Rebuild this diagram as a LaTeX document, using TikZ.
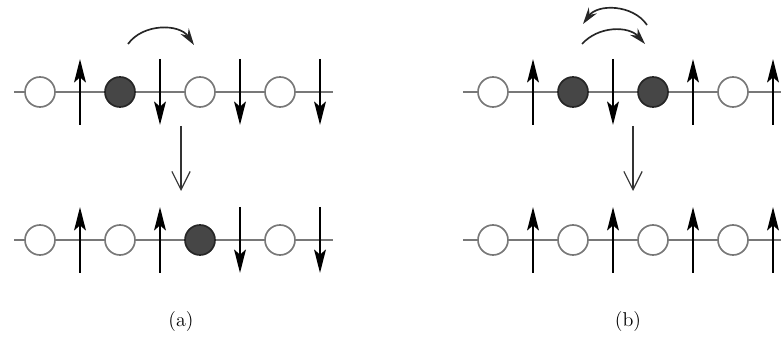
\documentclass[tikz,border=0pt]{standalone}
\usepackage{tikz}
\usetikzlibrary{arrows.meta}
\definecolor{cadena}{RGB}{120,120,120}
\definecolor{hueco}{RGB}{70,70,70}
\tikzset{
  sitio/.style={circle, draw=cadena, line width=1pt, fill=white,
    minimum size=18pt, inner sep=0pt},
  sitioh/.style={sitio, draw=black!85, fill=hueco},
  linea/.style={draw=cadena, line width=0.7pt},
  espin/.style={line width=1.7pt, -{Stealth[length=14pt,width=7pt,inset=3pt]}},
  salto/.style={line width=1pt, black!85, -{Stealth[length=10pt,width=6pt]}},
  paso/.style={line width=0.7pt, black!80, -{Straight Barb[length=11pt,width=11pt]}},
  etiq/.style={font=\large}
}
\begin{document}
\begin{tikzpicture}[x=0.6pt, y=0.6pt]
  \useasboundingbox (0,0) rectangle (781,-338);

  % cadenas
  \coordinate (a1i) at (14,-92);  \coordinate (a1d) at (333,-92);
  \coordinate (a2i) at (14,-240); \coordinate (a2d) at (333,-240);
  \coordinate (b1i) at (463,-92);  \coordinate (b1d) at (781,-92);
  \coordinate (b2i) at (463,-240); \coordinate (b2d) at (781,-240);
  \foreach \c in {a1,a2,b1,b2}
    \draw[linea] (\c i) -- (\c d);

  % sitios (a)
  \foreach \x/\t [count=\i] in {40/sitio,120/sitioh,200/sitio,280/sitio}
    \node[\t] (sa1-\i) at (\x,-92) {};
  \foreach \x/\t [count=\i] in {40/sitio,120/sitio,200/sitioh,280/sitio}
    \node[\t] (sa2-\i) at (\x,-240) {};
  % sitios (b)
  \foreach \x/\t [count=\i] in {493/sitio,573/sitioh,653/sitioh,733/sitio}
    \node[\t] (sb1-\i) at (\x,-92) {};
  \foreach \x [count=\i] in {493,573,653,733}
    \node[sitio] (sb2-\i) at (\x,-240) {};

  % espines: 1 = arriba, -1 = abajo
  \foreach \x/\s in {80/1,160/-1,240/-1,320/-1}
    \draw[espin] (\x,-92-33*\s) -- (\x,-92+33*\s);
  \foreach \x/\s in {80/1,160/1,240/-1,320/-1}
    \draw[espin] (\x,-240-33*\s) -- (\x,-240+33*\s);
  \foreach \x/\s in {533/1,613/-1,693/1,773/1}
    \draw[espin] (\x,-92-33*\s) -- (\x,-92+33*\s);
  \foreach \x in {533,613,693,773}
    \draw[espin] (\x,-240-33) -- (\x,-240+33);

  % saltos
  \coordinate (ha0) at (128,-44); \coordinate (ha1) at (194,-45);
  \draw[salto] (ha0) to[bend left=55] (ha1);
  \coordinate (hb0) at (647,-25); \coordinate (hb1) at (583,-24);
  \draw[salto] (hb0) to[bend right=55] (hb1);
  \coordinate (hb2) at (582,-44); \coordinate (hb3) at (645,-44);
  \draw[salto] (hb2) to[bend left=48] (hb3);

  % transiciones
  \coordinate (ta0) at (181,-126); \coordinate (ta1) at (181,-191);
  \draw[paso] (ta0) -- (ta1);
  \coordinate (tb0) at (633,-126); \coordinate (tb1) at (633,-191);
  \draw[paso] (tb0) -- (tb1);

  \node[etiq] (la) at (181,-322) {(a)};
  \node[etiq] (lb) at (628,-322) {(b)};
\end{tikzpicture}
\end{document}
